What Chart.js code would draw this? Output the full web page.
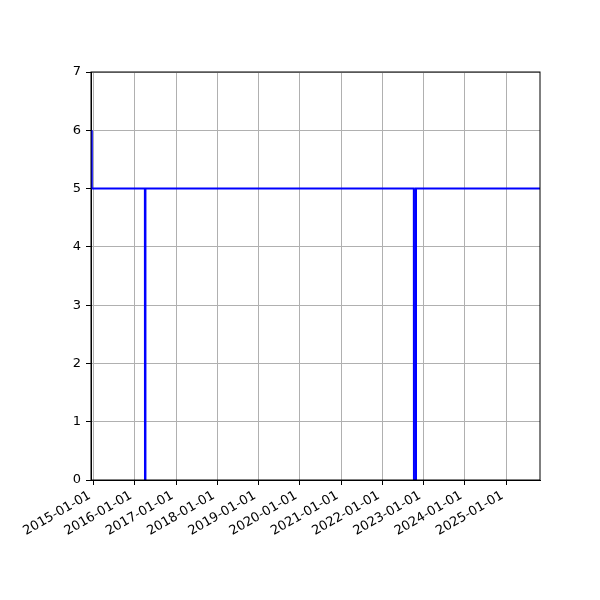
<!DOCTYPE html>
<html>
<head>
<meta charset="utf-8">
<script src="https://cdn.jsdelivr.net/npm/chart.js@4"></script>
<style>
  body { margin: 0; background: #fff; }
</style>
</head>
<body>
<canvas id="graph" width="600" height="600"></canvas>
<script>
// change points of the series (value holds until the next date)
const dates = ['2014-12-15', '2014-12-16', '2016-03-30', '2016-03-31', '2016-04-03', '2016-04-04',
               '2022-10-06', '2022-10-07', '2022-10-24', '2022-10-25', '2025-10-27']
const values = [6, 5, 5, 0, 0, 5, 5, 0, 0, 5, 5]
const xStart = '2014-12-09'
const tickYears = [2015, 2016, 2017, 2018, 2019, 2020, 2021, 2022, 2023, 2024, 2025]
const yTicks = [0, 1, 2, 3, 4, 5, 6, 7]

const ms = d => Date.parse(d + 'T00:00:00Z')
const pad = n => String(n).padStart(2, '0')
const fmt = v => {
    const d = new Date(v)
    return d.getUTCFullYear() + '-' + pad(d.getUTCMonth() + 1) + '-' + pad(d.getUTCDate())
}

// box around the plot + matplotlib-like rotated date labels
const frame = {
    id: 'frame',
    afterDraw(chart) {
        const { ctx, chartArea: a } = chart
        ctx.save()
        ctx.strokeStyle = '#000'
        ctx.lineWidth = 1
        ctx.strokeRect(a.left, a.top, a.right - a.left, a.bottom - a.top)

        const sx = chart.scales.x
        ctx.fillStyle = '#000'
        ctx.font = '13px "DejaVu Sans"'
        ctx.textAlign = 'right'
        ctx.textBaseline = 'top'
        sx.ticks.forEach(t => {
            const x = sx.getPixelForValue(t.value)
            ctx.save()
            // right edge of the rotated box sits on the tick
            ctx.translate(x - 7, a.bottom + 9)
            ctx.rotate(-Math.PI / 6)
            ctx.fillText(fmt(t.value), 0, 0)
            ctx.restore()
        })
        ctx.restore()
    }
}

Chart.defaults.font.family = 'DejaVu Sans'
Chart.defaults.color = '#000'

new Chart(document.getElementById('graph').getContext('2d'), {
    type: 'line',
    data: {
        datasets: [{
            data: dates.map((d, i) => ({ x: ms(d), y: values[i] })),
            borderColor: '#0000ff',
            borderWidth: 2,
            pointRadius: 0,
            tension: 0,
            fill: false
        }]
    },
    options: {
        responsive: false,
        animation: false,
        devicePixelRatio: 1,
        layout: { padding: { top: 72, right: 60, left: 0, bottom: 0 } },
        plugins: { legend: { display: false }, tooltip: { enabled: false } },
        scales: {
            x: {
                type: 'linear',
                min: ms(xStart),
                max: ms(dates[dates.length - 1]),
                afterBuildTicks: s => { s.ticks = tickYears.map(y => ({ value: ms(y + '-01-01') })) },
                afterFit: s => { s.height = 120 },
                ticks: { display: false, autoSkip: false },
                grid: { color: '#b0b0b0', lineWidth: 1, tickLength: 5, tickColor: '#000' },
                border: { color: '#000', width: 1 }
            },
            y: {
                min: 0,
                max: 7,
                afterBuildTicks: s => { s.ticks = yTicks.map(v => ({ value: v })) },
                afterFit: s => { s.width = 91 },
                ticks: { padding: 5, font: { size: 13 } },
                grid: { color: '#b0b0b0', lineWidth: 1, tickLength: 5, tickColor: '#000' },
                border: { color: '#000', width: 1 }
            }
        }
    },
    plugins: [frame]
})
</script>
</body>
</html>
